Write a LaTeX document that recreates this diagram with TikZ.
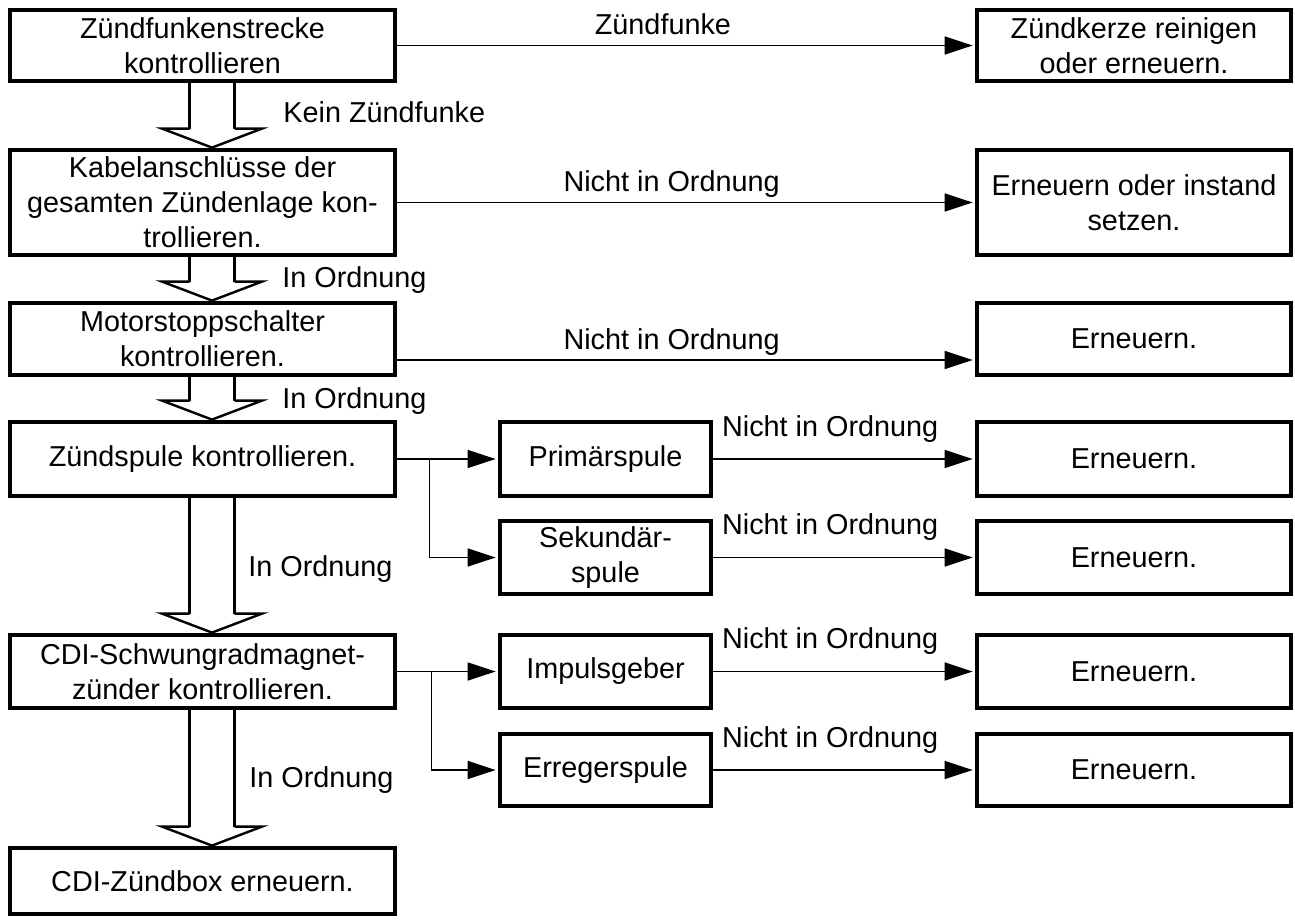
\documentclass[tikz,border=0pt]{standalone}
\usepackage{fontspec}
\setmainfont{Liberation Sans}
\usetikzlibrary{arrows.meta}

\newcommand{\boxfont}{\fontsize{14.4}{17.5}\selectfont}

\tikzset{
  stepbox/.style={draw, line width=2.4pt, align=center, inner sep=2pt, font=\boxfont},
  leftbox/.style={stepbox, minimum width=192.5pt},
  midbox/.style={stepbox, minimum width=105.5pt},
  rightbox/.style={stepbox, minimum width=157pt},
  link/.style={line width=0.8pt, shorten >=1pt, -{Triangle[length=14pt,width=9pt]}},
  lbl/.style={anchor=base, inner sep=0pt, font=\boxfont},
  shaft/.style={line width=1.8pt},
  head/.style={line width=1.2pt, line join=miter},
}

% hollow down arrow from one box to the next
\newcommand{\hollowdown}[2]{%
  \draw[shaft] ([xshift=-6.5pt]#1.south) -- ([xshift=-6.5pt,yshift=9.5pt]#2.north);
  \draw[shaft] ([xshift=16pt]#1.south) -- ([xshift=16pt,yshift=9.5pt]#2.north);
  \draw[head] ([xshift=-6.5pt,yshift=9.5pt]#2.north) -- ([xshift=-20.25pt,yshift=9.5pt]#2.north)
    -- ([xshift=4.75pt]#2.north) -- ([xshift=29.75pt,yshift=9.5pt]#2.north)
    -- ([xshift=16pt,yshift=9.5pt]#2.north);
}

\begin{document}
\begin{tikzpicture}[x=0.5pt, y=-0.5pt]
\useasboundingbox (0,0) rectangle (1295,920);

% left column
\node[leftbox, minimum height=35.5pt] (spark) at (202.5,45.5) {Zündfunkenstrecke\\kontrollieren};
\node[leftbox, minimum height=52.5pt] (cable) at (202.5,202.5) {Kabelanschlüsse der\\gesamten Zündenlage kon-\\trollieren.};
\node[leftbox, minimum height=36pt] (stopsw) at (202.5,339) {Motorstoppschalter\\kontrollieren.};
\node[leftbox, minimum height=37pt] (coil) at (202.5,459) {Zündspule kontrollieren.};
\node[leftbox, minimum height=36.5pt] (cdi) at (202.5,671.5) {CDI-Schwungradmagnet-\\zünder kontrollieren.};
\node[leftbox, minimum height=33pt] (cdibox) at (202.5,881) {CDI-Zündbox erneuern.};

% middle column
\node[midbox, minimum height=37pt] (prim) at (605.5,459) {Primärspule};
\node[midbox, minimum height=36.5pt] (sek) at (605.5,557.5) {Sekundär-\\spule};
\node[midbox, minimum height=36.5pt] (impuls) at (605.5,671.5) {Impulsgeber};
\node[midbox, minimum height=36pt] (erreger) at (605.5,770) {Erregerspule};

% right column
\node[rightbox, minimum height=35.5pt] (plug) at (1134,45.5) {Zündkerze reinigen\\oder erneuern.};
\node[rightbox, minimum height=52.5pt] (fix) at (1134,202.5) {Erneuern oder instand\\setzen.};
\node[rightbox, minimum height=36pt] (new3) at (1134,339) {Erneuern.};
\node[rightbox, minimum height=37pt] (new4) at (1134,459) {Erneuern.};
\node[rightbox, minimum height=36.5pt] (new5) at (1134,557.5) {Erneuern.};
\node[rightbox, minimum height=36.5pt] (new6) at (1134,671.5) {Erneuern.};
\node[rightbox, minimum height=36pt] (new7) at (1134,770) {Erneuern.};

% hollow arrows down the left column
\hollowdown{spark}{cable}
\hollowdown{cable}{stopsw}
\hollowdown{stopsw}{coil}
\hollowdown{coil}{cdi}
\hollowdown{cdi}{cdibox}
\node[lbl, anchor=base west] (l1) at (283,123) {Kein Zündfunke};
\node[lbl, anchor=base west] (l2) at (282,287) {In Ordnung};
\node[lbl, anchor=base west] (l3) at (282,408) {In Ordnung};
\node[lbl, anchor=base west] (l4) at (248,576) {In Ordnung};
\node[lbl, anchor=base west] (l5) at (249,787) {In Ordnung};

% connectors to the right
\draw[link] (spark.east) -- (plug.west) node[lbl, pos=0.46, yshift=5.5pt] {Zündfunke};
\draw[link] (cable.east) -- (fix.west) node[lbl, pos=0.475, yshift=5.5pt] {Nicht in Ordnung};
\draw[link] ([yshift=-10.5pt]stopsw.east) -- ([yshift=-10.5pt]new3.west) node[lbl, pos=0.475, yshift=5.5pt] {Nicht in Ordnung};

\coordinate (b1) at ([xshift=16pt]coil.east);
\draw[link] (coil.east) -- (prim.west);
\draw[link] (b1) |- (sek.west);
\coordinate (b2) at ([xshift=17pt]cdi.east);
\draw[link] (cdi.east) -- (impuls.west);
\draw[link] (b2) |- (erreger.west);

\draw[link] (prim.east) -- (new4.west) node[lbl, pos=0.447, yshift=11.5pt] {Nicht in Ordnung};
\draw[link] (sek.east) -- (new5.west) node[lbl, pos=0.447, yshift=11.5pt] {Nicht in Ordnung};
\draw[link] (impuls.east) -- (new6.west) node[lbl, pos=0.447, yshift=11.5pt] {Nicht in Ordnung};
\draw[link] (erreger.east) -- (new7.west) node[lbl, pos=0.447, yshift=11.5pt] {Nicht in Ordnung};
\end{tikzpicture}
\end{document}
